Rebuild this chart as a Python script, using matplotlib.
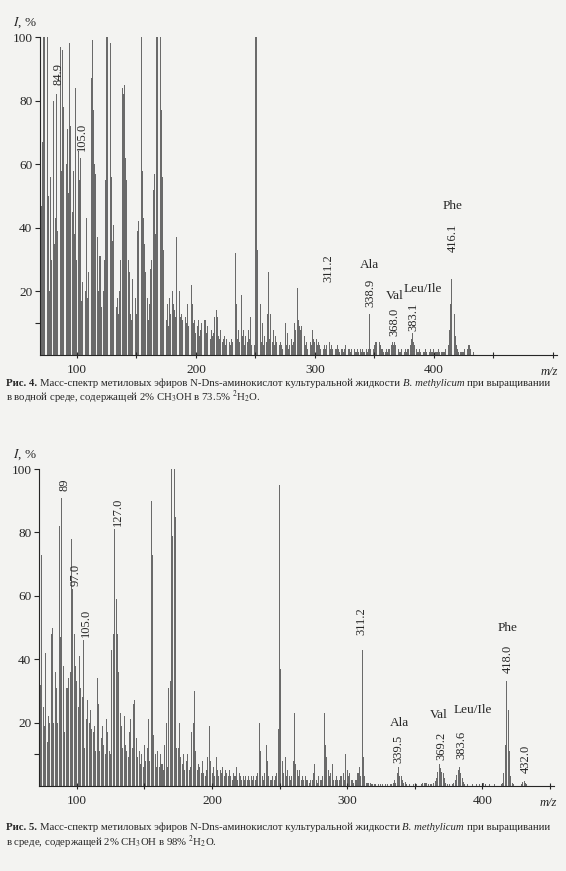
import matplotlib
matplotlib.use('Agg')
import matplotlib.pyplot as plt

plt.rcParams['font.family'] = ['Liberation Serif', 'DejaVu Serif']
plt.rcParams['mathtext.fontset'] = 'stix'

# ---------------- data: spectrum 1 (Fig. 4), m/z 69..438 ----------------
mz1_start = 69
int1 = [
    96, 47, 67, 100, 100, 92, 100, 50, 20, 56,     # 69-78
    30, 80, 35, 43, 82, 39, 86, 97, 58, 96,        # 79-88
    78, 29, 60, 71, 51, 98, 72, 45, 58, 38,        # 89-98
    84, 30, 64, 55, 62, 17, 23, 18, 20, 43,        # 99-108
    18, 26, 30, 87, 99, 77, 60, 57, 37, 20,        # 109-118
    31, 31, 15, 20, 30, 55, 100, 100, 100, 98,     # 119-128
    56, 36, 41, 25, 15, 18, 13, 20, 30, 84,        # 129-138
    82, 85, 62, 55, 30, 26, 13, 11, 24, 11,        # 139-148
    18, 13, 39, 42, 97, 100, 58, 43, 35, 26,       # 149-158
    18, 11, 16, 27, 30, 52, 57, 38, 100, 100,      # 159-168
    100, 100, 77, 56, 33, 20, 11, 16, 9, 18,       # 169-178
    13, 20, 16, 14, 12, 37, 88, 20, 12, 13,        # 179-188
    11, 14, 12, 10, 16, 9, 13, 22, 16, 10,         # 189-198
    11, 7, 9, 11, 6, 8, 10, 6, 11, 11,             # 199-208
    7, 9, 6, 5, 8, 6, 7, 12, 14, 12,               # 209-218
    6, 5, 8, 4, 5, 6, 3, 5, 7, 4,                  # 219-228
    3, 5, 4, 8, 32, 16, 5, 8, 4, 19,               # 229-238
    6, 8, 3, 6, 4, 8, 5, 12, 3, 5,                 # 239-248
    3, 100, 100, 33, 6, 16, 4, 10, 3, 6,           # 249-258
    4, 13, 26, 5, 13, 4, 8, 3, 6, 4,               # 259-268
    5, 3, 4, 3, 2, 5, 10, 3, 7, 2,                 # 269-278
    3, 5, 3, 4, 10, 8, 21, 11, 9, 8,               # 279-288
    9, 5, 6, 3, 4, 2, 3, 4, 3, 8,                  # 289-298
    5, 4, 5, 3, 4, 3, 2, 3, 2, 3,                  # 299-308
    2, 3, 17, 4, 2, 3, 2, 1, 2, 2,                 # 309-318
    3, 2, 1, 2, 2, 1, 2, 3, 1, 2,                  # 319-328
    2, 1, 2, 1, 2, 1, 1, 2, 1, 2,                  # 329-338
    1, 2, 1, 1, 2, 1, 2, 13, 2, 1,                 # 339-348
    2, 3, 4, 4, 5, 4, 3, 2, 2, 1,                  # 349-358
    1, 2, 1, 2, 2, 3, 4, 3, 4, 3,                  # 359-368
    2, 2, 1, 1, 2, 1, 1, 2, 1, 2,                  # 369-378
    2, 3, 5, 7, 4, 3, 2, 1, 1, 2,                  # 379-388
    1, 2, 1, 1, 2, 1, 1, 1, 2, 1,                  # 389-398
    1, 2, 1, 1, 1, 2, 1, 1, 1, 1,                  # 399-408
    1, 2, 2, 3, 8, 16, 24, 31, 13, 6,              # 409-418
    3, 2, 1, 1, 1, 1, 1, 2, 1, 2,                  # 419-428
    3, 3, 2, 1, 1, 0, 0, 0, 0, 0,                  # 429-438
]
mz1 = list(range(mz1_start, mz1_start + len(int1)))

# peak annotations, spectrum 1: (text, x, y_bottom)
num_labels1 = [("84.9", 84.5, 85), ("105.0", 104, 64), ("311.2", 311, 23),
               ("338.9", 347, 15), ("368.0", 367, 6), ("383.1", 383, 7.5),
               ("416.1", 416, 32.5)]
aa_labels1 = [("Ala", 346, 28.3), ("Val", 367, 18.6), ("Leu/Ile", 391, 20.8),
              ("Phe", 416, 47)]

# ---------------- data: spectrum 2 (Fig. 5), m/z 72..435 ----------------
mz2_start = 72
int2 = [
    61, 32, 73, 25, 19, 42, 14, 22, 20, 48,        # 72-81
    50, 20, 36, 31, 20, 82, 47, 91, 38, 17,        # 82-91
    31, 31, 34, 36, 78, 62, 48, 38, 33, 25,        # 92-101
    41, 31, 28, 46, 12, 21, 27, 20, 24, 18,        # 102-111
    17, 19, 11, 34, 26, 11, 15, 19, 13, 10,        # 112-121
    21, 17, 11, 10, 43, 48, 81, 59, 48, 36,        # 122-131
    23, 19, 12, 22, 13, 11, 9, 17, 21, 12,         # 132-141
    26, 27, 15, 9, 11, 7, 10, 6, 13, 8,            # 142-151
    12, 21, 8, 90, 73, 16, 10, 6, 11, 6,           # 152-161
    10, 7, 5, 13, 20, 6, 31, 33, 100, 79,          # 162-171
    100, 85, 12, 12, 20, 9, 7, 10, 5, 8,           # 172-181
    10, 5, 6, 17, 20, 30, 11, 5, 7, 6,             # 182-191
    4, 8, 4, 3, 5, 9, 19, 8, 4, 6,                 # 192-201
    3, 9, 5, 3, 5, 4, 6, 3, 5, 4,                  # 202-211
    3, 5, 3, 2, 4, 3, 6, 2, 4, 3,                  # 212-221
    2, 3, 2, 3, 2, 3, 2, 3, 2, 3,                  # 222-231
    2, 3, 4, 20, 11, 3, 2, 4, 13, 8,               # 232-241
    3, 2, 2, 3, 2, 3, 4, 18, 95, 37,               # 242-251
    8, 4, 9, 3, 5, 3, 2, 3, 8, 23,                 # 252-261
    7, 5, 3, 5, 2, 3, 2, 3, 2, 2,                  # 262-271
    1, 2, 2, 4, 7, 2, 1, 3, 2, 2,                  # 272-281
    3, 23, 13, 9, 5, 3, 4, 7, 2, 2,                # 282-291
    3, 2, 2, 3, 3, 4, 2, 10, 5, 3,                 # 292-301
    4, 2, 2, 1, 2, 2, 4, 6, 3, 43,                 # 302-311
    9, 3, 1, 1, 1, 1, 0.5, 0.5, 0.5, 0.5,          # 312-321
    0, 0.5, 0, 0.5, 0.5, 0, 0.5, 0, 0.5, 0,        # 322-331
    0.5, 0.5, 1, 2, 1, 4, 6, 3, 3, 2,              # 332-341
    1, 1.4, 0.5, 0, 0.5, 0, 0, 0.5, 0, 0.5,        # 342-351
    0, 0, 0, 0.5, 1, 1, 1, 1, 0.5, 0,              # 352-361
    0.5, 0, 1, 1.5, 2.4, 4.5, 7, 5.6, 4.5, 4,      # 362-371
    2.4, 1, 0.5, 0, 0.5, 0, 0.5, 1, 2, 3.5,        # 372-381
    5, 6, 4, 2.4, 1.4, 0.5, 0, 0.5, 0, 0,          # 382-391
    0, 0.5, 0, 0, 0.5, 0, 0.5, 0, 1, 1,            # 392-401
    0.5, 0, 0, 0.5, 0, 0, 0, 0.5, 0, 0,            # 402-411
    0, 0, 0.5, 1, 4, 13, 33, 24, 11, 3,            # 412-421
    1, 0.5, 0, 0, 0, 0, 0, 0.5, 1.4, 1.7,          # 422-431
    1, 0.5, 0, 0,                                  # 432-435
]
mz2 = list(range(mz2_start, mz2_start + len(int2)))

num_labels2 = [("89", 91, 93), ("97.0", 98.8, 63), ("105.0", 106.9, 47),
               ("127.0", 130.3, 82), ("311.2", 310.6, 47.6), ("339.5", 337.7, 7.3),
               ("369.2", 369.7, 8.2), ("383.6", 384.5, 8.5), ("418.0", 419, 35.6),
               ("432.0", 432.1, 4)]
aa_labels2 = [("Ala", 338.4, 20), ("Val", 368, 22.4), ("Leu/Ile", 393.1, 24),
              ("Phe", 419, 50)]

# axis ticks
yticks = [10, 20, 40, 60, 80, 100]
ytick_labels = ["", "20", "40", "60", "80", "100"]
xticks1 = [100, 150, 200, 250, 300, 350, 400, 450, 500]
xticks2 = [100, 150, 200, 250, 300, 350, 400, 450]
xtick_names = {100: "100", 200: "200", 300: "300", 400: "400"}

caption1 = [("Рис. 4.", dict(fontweight='bold')),
            ("Масс-спектр метиловых эфиров N-Dns-аминокислот культуральной жидкости", {}),
            ("B. methylicum", dict(fontstyle='italic')),
            ("при выращивании", {})]
caption1b = [("в водной среде, содержащей 2% CH$_3$OH в 73.5% $^2$H$_2$O.", {})]
caption2 = [("Рис. 5.", dict(fontweight='bold')),
            ("Масс-спектр метиловых эфиров N-Dns-аминокислот культуральной жидкости", {}),
            ("B. methylicum", dict(fontstyle='italic')),
            ("при выращивании", {})]
caption2b = [("в среде, содержащей 2% CH$_3$OH в 98% $^2$H$_2$O.", {})]

# ---------------- drawing ----------------
W, H = 566, 871
ink = '#262626'
bar_color = '#6a6a6a'
fig = plt.figure(figsize=(W / 100, H / 100), dpi=100, facecolor='#f3f3f1')


def fy(py):
    return (H - py) / H


def make_axes(left_px, bottom_px, width_px, height_px, xmin, xmax, xticks):
    ax = fig.add_axes([left_px / W, fy(bottom_px), width_px / W, height_px / H])
    ax.set_facecolor('none')
    ax.set_xlim(xmin, xmax)
    ax.set_ylim(0, 100)
    for s in ['top', 'right']:
        ax.spines[s].set_visible(False)
    for s in ['left', 'bottom']:
        ax.spines[s].set_color(ink)
        ax.spines[s].set_linewidth(0.8)
    ax.set_yticks(yticks)
    ax.set_yticklabels(ytick_labels)
    ax.set_xticks(xticks)
    ax.set_xticklabels([xtick_names.get(t, "") for t in xticks])
    ax.tick_params(axis='y', direction='out', length=3.5, width=0.8, pad=2,
                   labelsize=9.5, colors=ink)
    ax.tick_params(axis='x', direction='inout', length=5, width=0.8, pad=4,
                   labelsize=9.5, colors=ink)
    return ax


def draw_spectrum(ax, mz, vals, num_labels, aa_labels, mz_x):
    ax.bar(mz, vals, width=0.75, color=bar_color, linewidth=0)
    for txt, x, y in num_labels:
        ax.text(x, y, txt, rotation=90, ha='center', va='bottom', fontsize=9, color=ink)
    for txt, x, y in aa_labels:
        ax.text(x, y, txt, ha='center', va='center', fontsize=9.5, color=ink)
    ax.text(mz_x, -0.035, "m/z", transform=ax.get_xaxis_transform(), ha='center',
            va='top', fontsize=9, fontstyle='italic', color=ink)


ax1 = make_axes(40, 355, 516.5, 318, 69, 503, xticks1)
draw_spectrum(ax1, mz1, int1, num_labels1, aa_labels1, 497)
fig.text(25 / W, fy(23), r'$I$, %', ha='center', va='center', fontsize=9.5, color=ink)

ax2 = make_axes(39, 786, 515, 317, 72, 453, xticks2)
draw_spectrum(ax2, mz2, int2, num_labels2, aa_labels2, 449)
fig.text(25 / W, fy(455), r'$I$, %', ha='center', va='center', fontsize=9.5, color=ink)

renderer = fig.canvas.get_renderer()


def draw_runs(x_px, y_px, runs, size):
    texts = []
    x = x_px
    gap = 0.25 * size * 100 / 72
    for s, kw in runs:
        t = fig.text(x / W, fy(y_px), s, ha='left', va='baseline', fontsize=size,
                     color=ink, **kw)
        bb = t.get_window_extent(renderer)
        x = bb.x1 + gap
        texts.append(t)
    return texts, x - gap - x_px


def caption(x_px, y1, y2, runs1, runs2, target_w):
    texts, w = draw_runs(x_px, y1, runs1, 8)
    for t in texts:
        t.remove()
    size = 8 * target_w / w
    draw_runs(x_px, y1, runs1, size)
    draw_runs(x_px, y2, runs2, size)


caption(6, 386, 401, caption1, caption1b, 546)
caption(6, 830, 846, caption2, caption2b, 546)

fig.savefig('out.png', dpi=100, facecolor=fig.get_facecolor())
